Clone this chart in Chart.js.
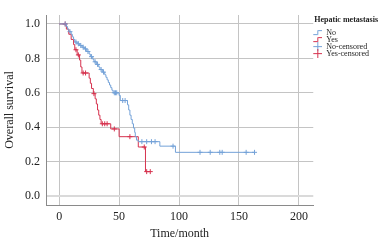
<!DOCTYPE html>
<html>
<head>
<meta charset="utf-8">
<script src="https://cdn.jsdelivr.net/npm/chart.js@4.4.1/dist/chart.umd.min.js"></script>
<style>
  html, body { margin: 0; padding: 0; background: #fff; }
</style>
</head>
<body>
<canvas id="km" width="388" height="245"></canvas>
<script>
// Kaplan-Meier steps (time in months, survival after the drop)
const noTimes = [0, 6, 7, 8, 10, 11, 12, 13, 15, 17, 19, 21, 23, 25, 26, 28, 29, 31, 33, 34, 36, 38, 39, 40, 41, 42, 43, 44, 45, 50, 51, 57, 58, 59, 60, 61, 62, 63, 63.5, 64.5, 66, 84, 97];
const noSurv  = [1.0, 0.985, 0.97, 0.955, 0.94, 0.925, 0.91, 0.895, 0.885, 0.875, 0.865, 0.855, 0.84, 0.825, 0.81, 0.795, 0.78, 0.765, 0.75, 0.735, 0.72, 0.705, 0.69, 0.675, 0.66, 0.645, 0.63, 0.615, 0.60, 0.585, 0.555, 0.53, 0.50, 0.47, 0.445, 0.42, 0.395, 0.37, 0.345, 0.325, 0.316, 0.29, 0.254];
const noCensored = [5, 9, 14, 16, 18, 20, 22, 24, 27, 30, 32, 35, 37, 46, 47, 48, 53, 55, 69, 73, 77, 80, 95, 117.5, 126, 134, 136, 156, 163];

const yesTimes = [0, 6, 8, 10, 12, 13, 15, 17, 18, 19, 25, 26, 27, 28.5, 30, 31, 32, 33, 34, 35, 43, 50, 66, 72];
const yesSurv  = [1.0, 0.97, 0.94, 0.91, 0.88, 0.85, 0.82, 0.79, 0.75, 0.715, 0.685, 0.655, 0.625, 0.595, 0.565, 0.535, 0.50, 0.47, 0.445, 0.42, 0.39, 0.345, 0.285, 0.142];
const yesCensored = [5, 14, 16, 20, 22, 29, 36, 38, 40, 46, 59, 71, 73, 76];

const seriesNames = ['No', 'Yes', 'No-censored', 'Yes-censored'];
const xTicks = [0, 50, 100, 150, 200];
const yTicks = [0, 0.2, 0.4, 0.6, 0.8, 1.0];

const blue = '#74a2d8';
const red = '#d6334f';
const serif = "'Liberation Serif', 'Times New Roman', serif";

// survival value of a step curve at time t
function survAt(times, surv, t) {
  let s = surv[0];
  for (let i = 0; i < times.length; i++) {
    if (times[i] <= t) s = surv[i];
  }
  return s;
}

function stepPoints(times, surv, censored) {
  const pts = times.map((t, i) => ({x: t, y: surv[i]}));
  const end = censored[censored.length - 1];
  pts.push({x: end, y: survAt(times, surv, end)});
  return pts;
}

function censorPoints(times, surv, censored) {
  return censored.map(t => ({x: t, y: survAt(times, surv, t)}));
}

// small legend icons
function stepIcon(color) {
  const c = document.createElement('canvas');
  c.width = 10; c.height = 7;
  const g = c.getContext('2d');
  g.strokeStyle = color; g.lineWidth = 1;
  g.beginPath();
  g.moveTo(0, 5.5); g.lineTo(5.5, 5.5); g.lineTo(5.5, 1.5); g.lineTo(10, 1.5);
  g.stroke();
  return c;
}
function crossIcon(color) {
  const c = document.createElement('canvas');
  c.width = 10; c.height = 9;
  const g = c.getContext('2d');
  g.strokeStyle = color; g.lineWidth = 1;
  g.beginPath();
  g.moveTo(0, 4.5); g.lineTo(10, 4.5);
  g.moveTo(5.5, 0); g.lineTo(5.5, 9);
  g.stroke();
  return c;
}
const icons = [stepIcon(blue), stepIcon(red), crossIcon(blue), crossIcon(red)];
const iconColors = [blue, red, blue, red];

new Chart(document.getElementById('km'), {
  type: 'line',
  data: {
    datasets: [
      {
        label: seriesNames[0],
        data: stepPoints(noTimes, noSurv, noCensored),
        borderColor: blue, borderWidth: 1, stepped: true, pointRadius: 0, fill: false
      },
      {
        label: seriesNames[1],
        data: stepPoints(yesTimes, yesSurv, yesCensored),
        borderColor: red, borderWidth: 1, stepped: true, pointRadius: 0, fill: false
      },
      {
        label: seriesNames[2],
        data: censorPoints(noTimes, noSurv, noCensored),
        showLine: false, pointStyle: 'cross', pointRadius: 2.5,
        borderColor: blue, borderWidth: 1
      },
      {
        label: seriesNames[3],
        data: censorPoints(yesTimes, yesSurv, yesCensored),
        showLine: false, pointStyle: 'cross', pointRadius: 2.5,
        borderColor: red, borderWidth: 1
      }
    ]
  },
  options: {
    responsive: false,
    animation: false,
    layout: { padding: { top: 15, right: 9, bottom: 0, left: 0 } },
    plugins: {
      tooltip: { enabled: false },
      legend: {
        position: 'right',
        align: 'start',
        title: {
          display: true,
          text: 'Hepatic metastasis',
          color: '#222',
          padding: { top: 1, bottom: 4 },
          font: { family: serif, size: 8, weight: 'bold' }
        },
        labels: {
          usePointStyle: true,
          pointStyleWidth: 10,
          padding: -1,
          color: '#222',
          font: { family: serif, size: 8 },
          generateLabels: function(chart) {
            return chart.data.datasets.map((ds, i) => ({
              text: ds.label,
              pointStyle: icons[i],
              fillStyle: iconColors[i],
              strokeStyle: iconColors[i],
              lineWidth: 1,
              fontColor: '#222',
              datasetIndex: i,
              hidden: false
            }));
          }
        }
      }
    },
    scales: {
      x: {
        type: 'linear',
        min: -11,
        max: 212,
        afterBuildTicks: scale => { scale.ticks = xTicks.map(v => ({value: v})); },
        afterFit: scale => { scale.height = 40; },
        grid: { color: '#c4c4c4', lineWidth: 1, drawTicks: false },
        border: { color: '#8a8a8a', width: 1 },
        ticks: { color: '#222', padding: 5, font: { family: serif, size: 12 } },
        title: {
          display: true, text: 'Time/month', color: '#222',
          padding: { top: 2, bottom: 4 },
          font: { family: serif, size: 12 }
        }
      },
      y: {
        min: -0.052,
        max: 1.052,
        afterBuildTicks: scale => { scale.ticks = yTicks.map(v => ({value: v})); },
        afterFit: scale => { scale.width = 46; },
        grid: {
          color: ctx => (ctx.tick && ctx.tick.value === 0 ? '#dadada' : '#c4c4c4'),
          lineWidth: ctx => (ctx.tick && ctx.tick.value === 0 ? 2 : 1),
          drawTicks: false
        },
        border: { color: '#8a8a8a', width: 1 },
        ticks: {
          color: '#222', padding: 6,
          font: { family: serif, size: 12 },
          callback: v => Number(v).toFixed(1)
        },
        title: {
          display: true, text: 'Overall survival', color: '#222',
          padding: { top: 3, bottom: 0 },
          font: { family: serif, size: 12 }
        }
      }
    }
  }
});
</script>
</body>
</html>
